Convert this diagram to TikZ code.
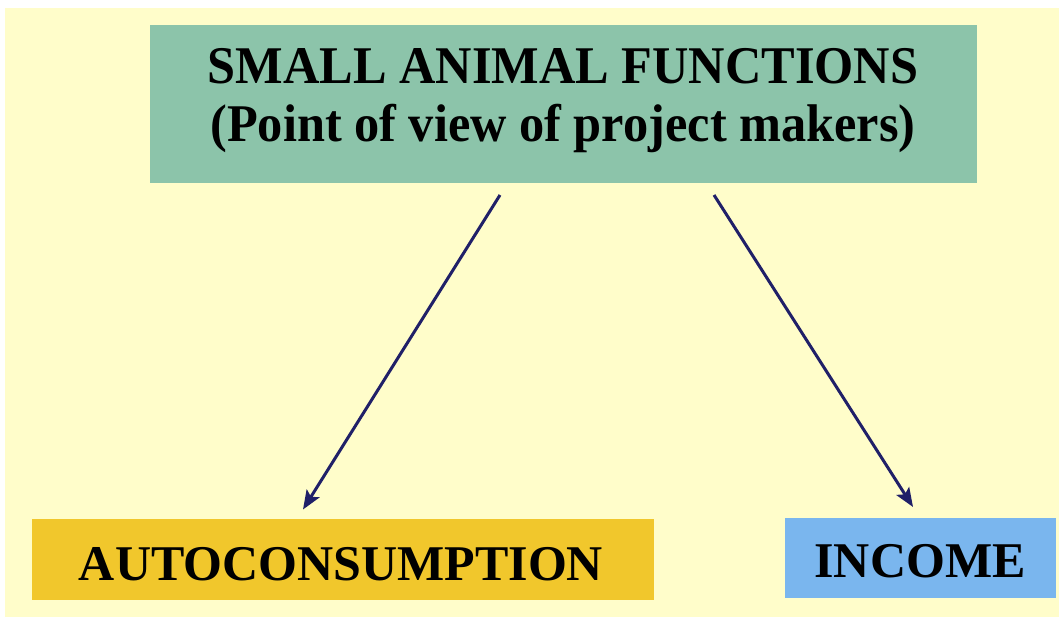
\documentclass[tikz,border=0pt]{standalone}
\usepackage{fontspec}
\setmainfont{Liberation Serif}
\newfontfamily\titlefont{Liberation Serif}[FakeStretch=0.95]
\usetikzlibrary{arrows.meta}

\definecolor{paper}{RGB}{255,253,202}
\definecolor{titlegreen}{RGB}{140,196,170}
\definecolor{autoyellow}{RGB}{241,199,44}
\definecolor{incomeblue}{RGB}{122,182,238}
\definecolor{navy}{RGB}{32,32,104}

\tikzset{
  panel/.style={draw=none, inner sep=0pt, outer sep=0pt},
  titletext/.style={anchor=base, inner sep=0pt, font=\titlefont\bfseries\fontsize{53}{58}\selectfont},
  boxtext/.style={anchor=base, inner sep=0pt, font=\bfseries\fontsize{50}{55}\selectfont},
  link/.style={draw=navy, line width=3pt, -{Stealth[length=19pt,width=15pt,inset=4pt]}}
}

\begin{document}
\begin{tikzpicture}[x=1pt, y=-1pt]
  % page and paper background
  \fill[white] (0,0) rectangle (1059,617);
  \fill[paper] (5,8) rectangle (1059,617);
  \useasboundingbox (0,0) rectangle (1059,617);

  % title panel
  \node[panel, fill=titlegreen, minimum width=827pt, minimum height=158pt] (top) at (563.5,104) {};
  \node[titletext] (title1) at (563,84) {SMALL ANIMAL FUNCTIONS};
  \node[titletext] (title2) at (563,142) {(Point of view of project makers)};

  % outcome panels
  \node[panel, fill=autoyellow, minimum width=622pt, minimum height=81pt] (auto) at (343,559.5) {};
  \node[boxtext] (autolabel) at (341,580) {AUTOCONSUMPTION};

  \node[panel, fill=incomeblue, minimum width=271pt, minimum height=80pt] (inc) at (920.5,558) {};
  \node[boxtext] (inclabel) at (920,577) {INCOME};

  % connectors
  \draw[link] ([xshift=-63.5pt,yshift=-12pt]top.south) -- ([xshift=-40pt,yshift=9.5pt]auto.north);
  \draw[link] ([xshift=150.5pt,yshift=-12pt]top.south) -- ([xshift=-7.5pt,yshift=11pt]inc.north);
\end{tikzpicture}
\end{document}
